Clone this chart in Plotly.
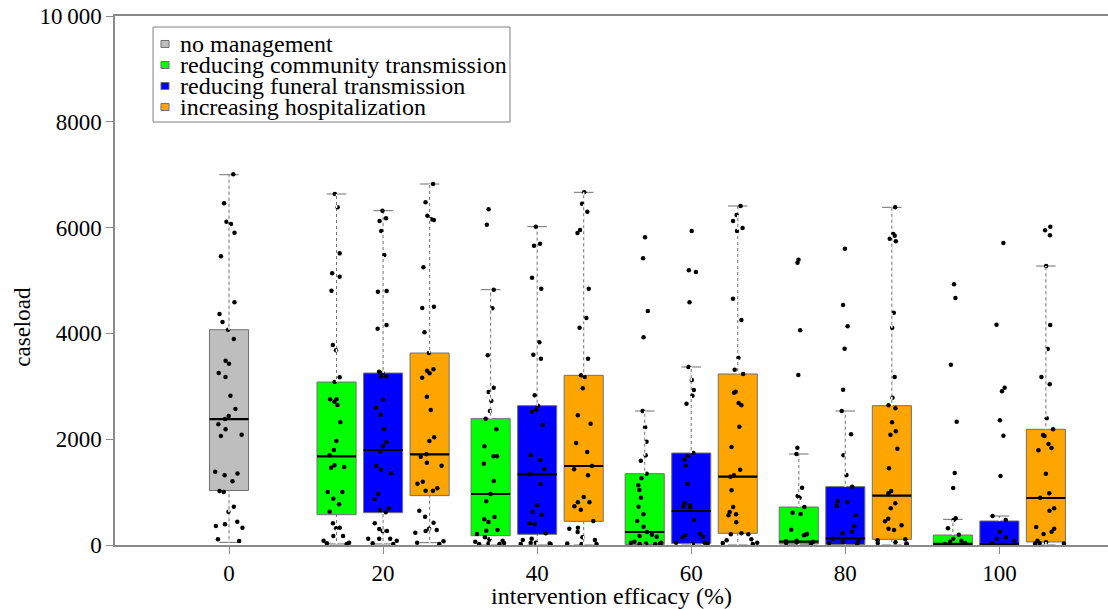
import plotly.graph_objects as go

# ---------------- data ----------------
efficacy_levels = [20, 40, 60, 80, 100]
tick_values = [0, 20, 40, 60, 80, 100]
tick_labels = ["0", "20", "40", "60", "80", "100"]
y_tick_values = [0, 2000, 4000, 6000, 8000, 10000]
y_tick_labels = ["0", "2000", "4000", "6000", "8000", "10\u2009000"]

series_names = ["no management", "reducing community transmission",
                "reducing funeral transmission", "increasing hospitalization"]

# no management (efficacy 0)
none_x = [0]
none_lower = [50]
none_q1 = [1030]
none_median = [2380]
none_q3 = [4070]
none_upper = [7000]
none_points = [7007, 6459, 6112, 6068, 5904, 5457, 4587, 4367, 4216, 4071, 3894,
               3485, 3428, 3251, 3176, 2823, 2571, 2439, 2382, 2281, 2186, 2086,
               2060, 1386, 1350, 1317, 1203, 1021, 1000, 725, 630, 441, 391, 359,
               328, 107, 76]

# reducing community transmission
community_lower = [20, 0, 0, 0, 0]
community_q1 = [573, 176, 10, 20, 0]
community_median = [1676, 964, 246, 63, 20]
community_q3 = [3081, 2388, 1348, 718, 189]
community_upper = [6635, 4827, 2533, 1720, 485]
community_points = [
    [6635, 6383, 5514, 5135, 5072, 4808, 3781, 3680, 3169, 3081, 2754, 2754, 2710,
     2647, 2319, 1966, 1796, 1695, 1506, 1462, 1474, 1002, 1002, 876, 769, 630,
     410, 315, 328, 170, 170, 82, 32, 19, 44],
    [6345, 6055, 4827, 4474, 3585, 2974, 2892, 2728, 2533, 2388, 2187, 1865, 1676,
     1676, 1537, 1210, 964, 826, 529, 485, 435, 284, 271, 208, 145, 107, 80, 63,
     32, 19, 19, 40],
    [5816, 5419, 4423, 3926, 2533, 2224, 1953, 1695, 1594, 1348, 1260, 1128, 1040,
     895, 725, 580, 454, 347, 246, 195, 170, 158, 63, 44, 30, 20, 30, 44, 20],
    [5337, 5394, 4058, 3214, 1840, 1720, 926, 895, 1084, 718, 611, 586, 290, 208,
     183, 200, 82, 63, 40, 50, 20, 70],
    [4927, 4669, 3409, 2331, 1361, 1078, 504, 473, 315, 195, 120, 80, 60, 40, 20],
]

# reducing funeral transmission
funeral_lower = [20, 0, 0, 0, 0]
funeral_q1 = [611, 202, 30, 10, 0]
funeral_median = [1796, 1336, 643, 126, 15]
funeral_q3 = [3251, 2634, 1739, 1103, 454]
funeral_upper = [6320, 6018, 3365, 2533, 548]
funeral_points = [
    [6320, 6175, 6125, 5936, 5482, 4802, 4789, 4159, 4089, 3277, 3258, 3188, 3188,
     2747, 2596, 2464, 2187, 1941, 1865, 1764, 1493, 1424, 1355, 964, 870, 693,
     662, 618, 410, 302, 265, 120, 120, 265, 82, 19, 32, 120],
    [6018, 5696, 5658, 5053, 4846, 3831, 3598, 3522, 2829, 2634, 2558, 2520, 2275,
     1695, 1601, 1430, 1336, 1147, 750, 624, 573, 410, 391, 221, 120, 95, 44, 30,
     19, 44, 19],
    [5936, 5192, 5161, 4587, 3365, 3119, 2930, 2823, 2672, 1739, 1682, 1613, 1500,
     1153, 788, 750, 730, 712, 473, 189, 158, 150, 208, 44, 30, 20, 44],
    [5602, 4537, 4134, 3711, 2936, 2533, 2092, 1695, 1323, 1103, 826, 810, 737, 567,
     353, 252, 221, 120, 80, 40, 60, 20],
    [5709, 4165, 2974, 2905, 2357, 2067, 1304, 548, 473, 252, 120, 82, 140, 40],
]

# increasing hospitalization
hospital_lower = [44, 0, 0, 0, 0]
hospital_q1 = [933, 447, 221, 107, 57]
hospital_median = [1714, 1493, 1292, 933, 888]
hospital_q3 = [3629, 3207, 3233, 2634, 2187]
hospital_upper = [6824, 6667, 6408, 6383, 5274]
hospital_points = [
    [6824, 6478, 6225, 6156, 6144, 5249, 4505, 4480, 4020, 3629, 3321, 3296, 3245,
     3163, 2804, 2552, 2035, 1966, 1714, 1670, 1556, 1500, 1197, 1159, 1071, 1027,
     1027, 649, 536, 422, 309, 284, 265, 233, 69, 44, 19],
    [6667, 6452, 6301, 5955, 5898, 4846, 4291, 4108, 3522, 3207, 3176, 2962, 2451,
     2294, 1928, 1758, 1493, 1430, 1317, 907, 807, 731, 668, 807, 454, 309, 246,
     328, 145, 95, 30, 19, 19],
    [6408, 6238, 6125, 5992, 5936, 4657, 4253, 3541, 3314, 3233, 2898, 2880, 2684,
     2640, 2237, 1853, 1424, 1317, 1292, 1033, 718, 624, 580, 561, 428, 221, 202,
     202, 107, 90, 40, 20, 44],
    [6383, 5879, 5741, 5848, 5791, 4392, 4108, 3176, 2785, 2640, 2584, 2319, 2149,
     2086, 1821, 1449, 1021, 980, 788, 693, 498, 447, 309, 372, 284, 107, 90, 40,
     30, 50, 20],
    [6018, 5948, 5854, 5274, 4159, 3705, 3176, 3037, 2394, 2187, 2060, 2079, 1909,
     1834, 1790, 1348, 977, 895, 693, 649, 309, 252, 340, 208, 82, 40, 30, 50, 30],
]

# ---------------- styles ----------------
colors = {"none": "#BEBEBE", "community": "#00FF00", "funeral": "#0000FF",
          "hospital": "#FFA500"}
outline = "#707070"
axis_grey = "#8a8a8a"
FONT = "Liberation Serif"
BOXGAP = 0.094
BOXGROUPGAP = 0.16
N_SLOTS = 3
SLOT = (efficacy_levels[1] - efficacy_levels[0]) * (1 - BOXGAP) / N_SLOTS
slot_offset = {"g": -SLOT, "b": 0.0, "o": SLOT}

fig = go.Figure()

# (key, x positions, lower, q1, median, q3, upper, points, offsetgroup)
specs = [
    ("community", efficacy_levels, community_lower, community_q1, community_median,
     community_q3, community_upper, community_points, "g"),
    ("funeral", efficacy_levels, funeral_lower, funeral_q1, funeral_median,
     funeral_q3, funeral_upper, funeral_points, "b"),
    ("hospital", efficacy_levels, hospital_lower, hospital_q1, hospital_median,
     hospital_q3, hospital_upper, hospital_points, "o"),
    ("none", none_x, none_lower, none_q1, none_median, none_q3, none_upper,
     [none_points], "b"),
]

# box bodies (with whiskers and caps)
for key, xs, lo, q1, med, q3, up, pts, og in specs:
    fig.add_trace(go.Box(
        x=xs, lowerfence=lo, q1=q1, median=med, q3=q3, upperfence=up,
        offsetgroup=og, alignmentgroup="all",
        fillcolor=colors[key], line=dict(color=outline, width=1),
        whiskerwidth=0.5, boxpoints=False, hoverinfo="skip", showlegend=False,
    ))

# black median bars
for key, xs, lo, q1, med, q3, up, pts, og in specs:
    fig.add_trace(go.Box(
        x=xs, lowerfence=med, q1=med, median=med, q3=med, upperfence=med,
        offsetgroup=og, alignmentgroup="all", fillcolor="rgba(0,0,0,0)",
        line=dict(color="black", width=2.2), whiskerwidth=0, boxpoints=False,
        hoverinfo="skip", showlegend=False,
    ))

# white dashes over the whiskers so they read as dashed lines
wx, wy = [], []
for key, xs, lo, q1, med, q3, up, pts, og in specs:
    for xv, l, a, b, u in zip(xs, lo, q1, q3, up):
        xc = xv + slot_offset[og]
        wx += [xc, xc, None, xc, xc, None]
        wy += [b, u, None, l, a, None]
fig.add_trace(go.Scatter(
    x=wx, y=wy, mode="lines", line=dict(color="white", width=1.6, dash="3px,3px"),
    hoverinfo="skip", showlegend=False,
))

# jittered sample points
for key, xs, lo, q1, med, q3, up, pts, og in specs:
    px, py = [], []
    for xv, vals in zip(xs, pts):
        px += [xv] * len(vals)
        py += vals
    fig.add_trace(go.Box(
        x=px, y=py, offsetgroup=og, alignmentgroup="all",
        boxpoints="all", jitter=1, pointpos=0,
        fillcolor="rgba(0,0,0,0)", line=dict(color="rgba(0,0,0,0)", width=0),
        marker=dict(color="black", size=4.5), whiskerwidth=0,
        hoverinfo="y", showlegend=False,
    ))

# ---------------- legend (text + swatches in paper coords) ----------------
legend_order = ["none", "community", "funeral", "hospital"]
leg_x0, leg_x1, leg_y0, leg_y1 = 0.0383, 0.3978, 0.7996, 0.9792
row_y = [0.9471, 0.9074, 0.8677, 0.8280]
sw_x0, sw_x1, sw_h = 0.0463, 0.0544, 0.0066
shapes = [dict(type="rect", xref="paper", yref="paper", x0=leg_x0, x1=leg_x1,
               y0=leg_y0, y1=leg_y1, line=dict(color="#808080", width=1),
               fillcolor="white", layer="above")]
annotations = []
for key, name, ry in zip(legend_order, series_names, row_y):
    shapes.append(dict(type="rect", xref="paper", yref="paper", x0=sw_x0, x1=sw_x1,
                       y0=ry - sw_h, y1=ry + sw_h, fillcolor=colors[key],
                       line=dict(color="#707070", width=1), layer="above"))
    annotations.append(dict(text=name, xref="paper", yref="paper", x=0.0634, y=ry,
                            xanchor="left", yanchor="middle", showarrow=False,
                            font=dict(size=24, family=FONT, color="black")))

annotations.append(dict(
    text="caseload", textangle=-90, xref="paper", yref="paper",
    x=-0.094, y=0.412, xanchor="center", yanchor="middle", showarrow=False,
    font=dict(size=23, family=FONT),
))

fig.update_layout(
    width=1108, height=609,
    margin=dict(l=115, r=0, t=16, b=64),
    boxmode="group", boxgap=BOXGAP, boxgroupgap=BOXGROUPGAP,
    plot_bgcolor="white", paper_bgcolor="white",
    font=dict(family=FONT, size=23, color="black"),
    showlegend=False,
    xaxis=dict(
        range=[-14.8, 114.1], tickvals=tick_values, ticktext=tick_labels,
        showline=True, linecolor=axis_grey, linewidth=1.5, mirror=True,
        ticks="outside", ticklen=7, tickcolor=axis_grey, tickwidth=1.2,
        showgrid=False, zeroline=False,
        title=dict(text="intervention efficacy (%)", font=dict(size=24), standoff=6),
    ),
    yaxis=dict(
        range=[0, 10000], tickvals=y_tick_values, ticktext=y_tick_labels,
        showline=True, linecolor=axis_grey, linewidth=1.5,
        ticks="outside", ticklen=7, tickcolor=axis_grey, tickwidth=1.2,
        showgrid=False, zeroline=False,
    ),
    shapes=shapes,
    annotations=annotations,
)

fig.write_html("out.html", config={"displayModeBar": False},
               post_script="document.body.style.margin='0';"
                           "document.body.style.overflow='hidden';")
